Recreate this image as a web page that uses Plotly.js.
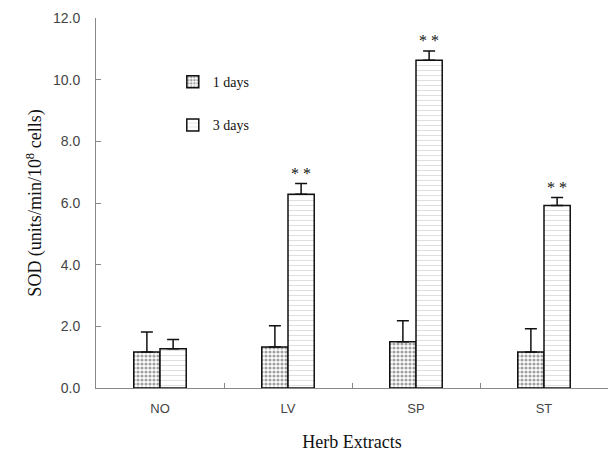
<!DOCTYPE html>
<html>
<head>
<meta charset="utf-8">
<script src="https://cdn.plot.ly/plotly-3.0.1.min.js"></script>
<style>html,body{margin:0;padding:0;background:#fff;}#chart{width:614px;height:452px;}</style>
</head>
<body>
<div id="chart"></div>
<script>
const categories = ["NO", "LV", "SP", "ST"];
const day1Values = [1.17, 1.33, 1.50, 1.17];
const day1Errors = [0.65, 0.69, 0.68, 0.75];
const day3Values = [1.27, 6.28, 10.63, 5.92];
const day3Errors = [0.30, 0.35, 0.30, 0.26];
const day3Marks = ["", "* *", "* *", "* *"];
const yTicks = [0, 2, 4, 6, 8, 10, 12];
const yTickLabels = ["0.0", "2.0", "4.0", "6.0", "8.0", "10.0", "12.0"];

const serif = "Liberation Serif, Times New Roman, serif";
const sans = "Liberation Sans, Arial, sans-serif";

const traces = [
  {
    type: "bar", name: "1 days", x: categories, y: day1Values,
    legendgroup: "a",
    marker: {
      color: "#ffffff",
      line: {color: "#111", width: 1.5},
      pattern: {shape: ".", fgcolor: "#444", bgcolor: "#ffffff", solidity: 0.5, size: 4, fillmode: "overlay"}
    },
    error_y: {type: "data", symmetric: false, array: day1Errors, arrayminus: [0,0,0,0], color: "#111", thickness: 1.5, width: 6}
  },
  {
    type: "bar", name: "3 days", x: categories, y: day3Values,
    legendgroup: "b",
    marker: {
      color: "#ffffff",
      line: {color: "#111", width: 1.5},
      pattern: {shape: "-", fgcolor: "#aaa", bgcolor: "#ffffff", solidity: 0.15, size: 5, fillmode: "overlay"}
    },
    error_y: {type: "data", symmetric: false, array: day3Errors, arrayminus: [0,0,0,0], color: "#111", thickness: 1.5, width: 6}
  }
];

const annotations = categories.map((c, i) => ({
  x: c, y: day3Values[i] + day3Errors[i], xref: "x", yref: "y",
  text: day3Marks[i], showarrow: false, xshift: 13, yshift: 10,
  font: {family: serif, size: 16, color: "#111"}
})).filter((a, i) => day3Marks[i] !== "");

const layout = {
  width: 614, height: 452,
  margin: {l: 96, r: 6, t: 18, b: 64},
  paper_bgcolor: "#fff", plot_bgcolor: "#fff",
  barmode: "group", bargap: 0.59, bargroupgap: 0,
  showlegend: true,
  legend: {x: 0.15, y: 0.87, xanchor: "left", yanchor: "top", bgcolor: "rgba(0,0,0,0)",
    font: {family: serif, size: 14, color: "#111"}, tracegroupgap: 22, itemwidth: 30},
  xaxis: {
    type: "category", tickson: "boundaries", ticks: "inside", ticklen: 5, tickcolor: "#888",
    showline: true, linecolor: "#888", linewidth: 1, showgrid: false, zeroline: false,
    ticklabelstandoff: 8,
    tickfont: {family: sans, size: 13, color: "#444"},
    title: {text: "Herb Extracts", font: {family: serif, size: 18, color: "#111"}, standoff: 22}
  },
  yaxis: {
    range: [0, 12], tickvals: yTicks, ticktext: yTickLabels,
    ticks: "inside", ticklen: 5, tickcolor: "#888",
    showline: true, linecolor: "#888", linewidth: 1, showgrid: false, zeroline: false,
    ticklabelstandoff: 12,
    tickfont: {family: sans, size: 14, color: "#444"},
    title: {text: "SOD (units/min/10<sup>8</sup> cells)", font: {family: serif, size: 18, color: "#111"}, standoff: 6}
  },
  annotations: annotations
};

Plotly.newPlot("chart", traces, layout, {displayModeBar: false, staticPlot: true});
</script>
</body>
</html>
